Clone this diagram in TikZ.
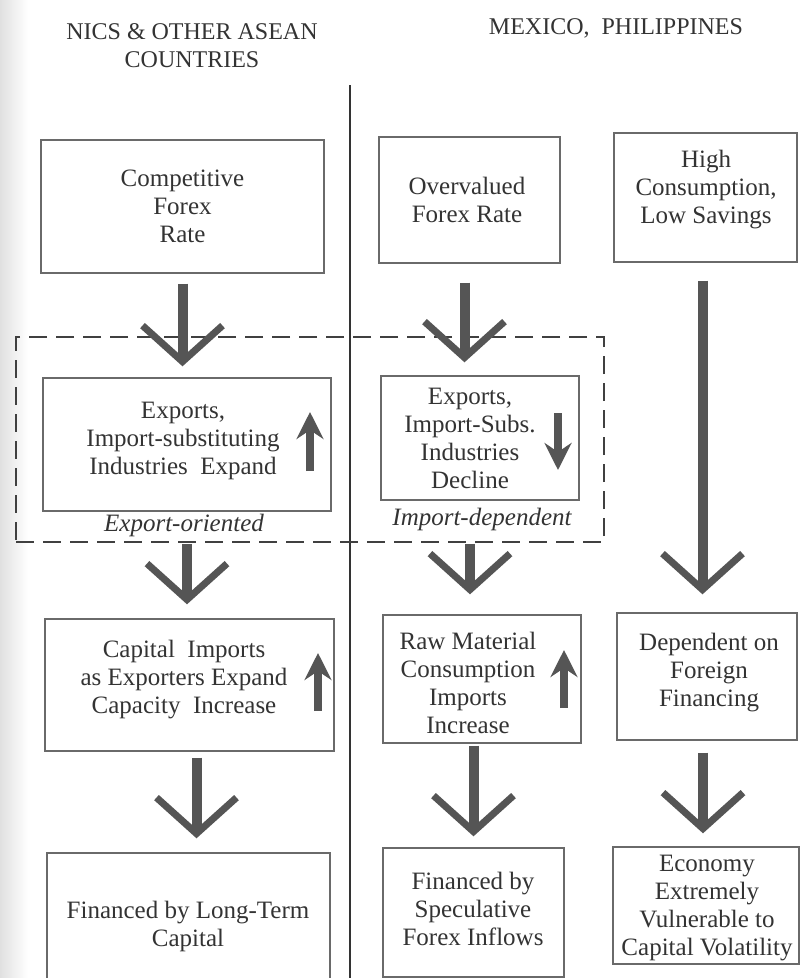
\documentclass[tikz,border=0pt]{standalone}
\usepackage{fontspec}
\setmainfont{Liberation Serif}
\usetikzlibrary{arrows.meta,positioning,calc}
\definecolor{ink}{HTML}{333333}
\definecolor{arrgray}{HTML}{555555}
\definecolor{edge}{HTML}{6A6A6A}

\begin{document}
\begin{tikzpicture}[
    x=1pt, y=-1pt,
    box/.style={rectangle, draw=edge, line width=1.4pt, inner sep=0pt},
    txt/.style={align=center, text=ink, inner sep=0pt, font=\fontsize{25}{28}\selectfont},
    head/.style={align=center, text=ink, font=\fontsize{24}{28}\selectfont},
    tag/.style={text=ink, inner sep=0pt, font=\fontsize{25}{28}\selectfont\itshape},
    bigarrow/.style={draw=arrgray, line width=10pt,
                     -{Straight Barb[length=36pt,width=80pt,line width=7pt]}},
    smallarrow/.style={draw=arrgray, line width=7.5pt,
                       -{Stealth[length=27pt,width=27pt,inset=9pt]}},
    dashbox/.style={rectangle, draw=black!75, line width=2.2pt, dash pattern=on 18pt off 9pt}
]
\useasboundingbox (0,0) rectangle (801,978);
\clip (0,0) rectangle (801,978);
\shade[left color=black!12, right color=white] (0,0) rectangle (28,978);

% column headings and divider
\node[head] (hdL) at (192,46) {NICS \& OTHER ASEAN\\COUNTRIES};
\node[head] (hdR) at (616,28) {MEXICO,\enspace PHILIPPINES};
\coordinate (divT) at (350,85);
\coordinate (divB) at (350,978);
\draw[line width=1.6pt, black!80] (divT) -- (divB);

% row 1: exchange rate / consumption
\node[box, minimum width=283pt, minimum height=133pt] (fxL) at (182.5,206.5) {};
\node[txt] (fxLt) at (fxL) {Competitive\\Forex\\Rate};
\node[box, minimum width=181pt, minimum height=126pt] (fxM) at (469.5,200) {};
\node[txt] (fxMt) at (467,200) {Overvalued\\Forex Rate};
\node[box, minimum width=183pt, minimum height=129pt] (fxR) at (705.5,197.5) {};
\node[txt] (fxRt) at (706,190) {High\\Consumption,\\Low Savings};

% row 2: industries (dashed group)
\node[dashbox, minimum width=588pt, minimum height=205pt] (grp) at (310,439.5) {};
\node[box, minimum width=288pt, minimum height=133pt] (indL) at (187,444.5) {};
\node[txt] (indLt) at (183,441) {Exports,\\Import-substituting\\Industries\enspace Expand};
\draw[smallarrow] (310,471) -- (310,412);
\node[tag] (expo) at (184,525) {Export-oriented};
\node[box, minimum width=198pt, minimum height=124pt] (indM) at (480,438) {};
\node[txt] (indMt) at (470,438) {Exports,\\Import-Subs.\\Industries\\Decline};
\draw[smallarrow] (558,413) -- (558,470);
\node[tag] (impo) at (482,519) {Import-dependent};

% row 3: imports / financing needs
\node[box, minimum width=289pt, minimum height=132pt] (capL) at (189.5,685) {};
\node[txt] (capLt) at (184,680) {Capital\enspace Imports\\as Exporters Expand\\Capacity\enspace Increase};
\draw[smallarrow] (318,711) -- (318,653);
\node[box, minimum width=198pt, minimum height=128pt] (rawM) at (482,679) {};
\node[txt] (rawMt) at (468,683) {Raw Material\\Consumption\\Imports\\Increase};
\draw[smallarrow] (564,708) -- (564,650);
\node[box, minimum width=180pt, minimum height=127pt] (depR) at (707,676.5) {};
\node[txt] (depRt) at (709,673) {Dependent on\\Foreign\\Financing};

% row 4: outcome
\node[box, minimum width=283pt, minimum height=147pt] (finL) at (188.5,926.5) {};
\node[txt] (finLt) at (188,926) {Financed by Long-Term\\Capital};
\node[box, minimum width=181pt, minimum height=129pt] (finM) at (473.5,912.5) {};
\node[txt] (finMt) at (473,909) {Financed by\\Speculative\\Forex Inflows};
\node[box, minimum width=186pt, minimum height=117pt] (volR) at (706,905.5) {};
\node[txt] (volRt) at (707,908) {Economy\\Extremely\\Vulnerable to\\Capital Volatility};

% big arrows between rows
\draw[bigarrow, shorten <=10pt, shorten >=11pt] (fxL.south) -- (fxL.south |- indL.north);
\draw[bigarrow, shorten <=19pt, shorten >=13pt] ([xshift=-5pt]fxM.south) -- ([xshift=-5pt]fxM.south |- indM.north);
\draw[bigarrow, shorten <=18pt, shorten >=18pt] ([xshift=-3pt]fxR.south) -- ([xshift=-3pt]fxR.south |- depR.north);
\draw[bigarrow, shorten <=1pt, shorten >=14pt] (indL.south |- grp.south) -- (indL.south |- capL.north);
\draw[bigarrow, shorten <=1pt, shorten >=20pt] (indMt |- grp.south) -- (indMt |- rawM.north);
\draw[bigarrow, shorten <=6pt, shorten >=14pt] ([xshift=7pt]capL.south) -- ([xshift=7pt]capL.south |- finL.north);
\draw[bigarrow, shorten <=2pt, shorten >=11pt] (finM.north |- rawM.south) -- (finM.north);
\draw[bigarrow, shorten <=12pt, shorten >=13pt] ([xshift=-4pt]depR.south) -- ([xshift=-4pt]depR.south |- volR.north);

\end{tikzpicture}
\end{document}
